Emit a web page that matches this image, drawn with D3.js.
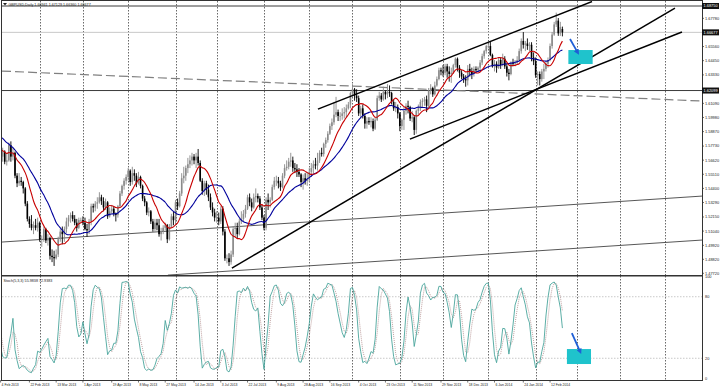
<!DOCTYPE html>
<html><head><meta charset="utf-8">
<script src="https://cdn.jsdelivr.net/npm/d3@7"></script>
<style>html,body{margin:0;padding:0;background:#fff;overflow:hidden}svg{display:block}</style>
</head><body><svg id="c" width="720" height="387"></svg>
<script>
// ---------- DATA (prices in 1/10000) ----------
const startDate = "2013-02-04";
const titleText = "GBPUSD,Daily  1.66941 1.67129 1.66360 1.66677";
const stochTitle = "Stoch(5,3,3) 55.9838 72.9383";
// 20 bars before the first shown bar (7 Jan - 1 Feb 2013), used only to warm up the indicators
const warmCloses = [16010,16000,15990,16020,16030,15960,15950,15920,15900,15800,15760,15790,15760,15780,15700,15720,15720,15780,15800,15690];
const warmHighs  = [16080,16050,16060,16070,16080,16050,16000,15990,15960,15920,15830,15830,15820,15810,15790,15760,15770,15830,15840,15860];
const warmLows   = [15980,15960,15940,15970,15980,15930,15910,15890,15870,15780,15720,15740,15730,15740,15680,15690,15690,15700,15760,15670];
const opens = [
15700,15690,15730,15650,15660, 15780,15690,15720,15540,15480, 15500,15490,15440,15320,15200, 15160,15130,15150,15130,15170,
15040,15040,15120,15030,15050, 14910,14900,14890,14920,15040, 15100,15080,15120,15180,15210, 15230,15200,15170,15130,15190,
15190,15170,15120,15110,15180, 15300,15290,15320,15330,15370, 15340,15290,15330,15220,15260, 15280,15240,15230,15300,15400,
15460,15500,15530,15580,15490, 15560,15540,15480,15530,15460, 15360,15330,15250,15260,15180, 15120,15170,15150,15080,15100,
15130,15150,15040,15140,15220, 15190,15330,15300,15400,15520, 15540,15600,15630,15660,15690, 15660,15690,15640,15500,15420,
15480,15430,15370,15290,15250, 15210,15210,15180,15280,15100, 14890,14890,14860,14920,15120, 15130,15080,15180,15200,15240,
15280,15370,15330,15290,15370, 15380,15360,15290,15210,15130, 15350,15330,15350,15450,15500, 15500,15480,15450,15540,15600,
15610,15650,15660,15600,15590, 15570,15550,15490,15520,15500, 15510,15570,15600,15630,15620, 15660,15720,15710,15790,15820,
15870,15930,15960,16020,16040, 16010,16010,16030,16040,16070, 16100,16190,16220,16170,16150, 16030,16070,16010,15950,15970,
15960,15970,15910,15980,16150, 16170,16140,16200,16180,16200, 16190,16120,16070,16080,16030, 15930,15980,16050,16090,16080,
15990,16000,15900,16050,16070, 16120,16130,16140,16090,16210, 16230,16180,16250,16300,16370, 16360,16350,16400,16360,16340,
16350,16410,16460,16390,16350, 16320,16300,16290,16380,16360, 16340,16380,16370,16390,16430, 16480,16520,16560,16560,16490,
16400,16420,16390,16450,16410, 16460,16400,16350,16340,16430, 16420,16430,16450,16520,16600, 16570,16580,16560,16570,16470,
16440,16330,16340,16300,16360, 16380,16420,16450,16560,16650, 16730,16760,16660,16694.1];
const highs = [
15750,15760,15740,15720,15800, 15810,15760,15730,15560,15560, 15530,15500,15450,15340,15220, 15230,15180,15200,15210,15180,
15070,15140,15130,15080,15060, 14960,14950,14960,15060,15120, 15140,15140,15210,15230,15250, 15260,15230,15200,15210,15210,
15220,15210,15160,15200,15320, 15320,15340,15370,15410,15390, 15370,15360,15340,15290,15310, 15300,15250,15310,15420,15470,
15520,15550,15600,15590,15610, 15590,15560,15570,15540,15470, 15380,15340,15290,15270,15200, 15200,15200,15200,15130,15150,
15170,15160,15160,15240,15260, 15350,15360,15420,15560,15610, 15620,15680,15700,15720,15710, 15720,15750,15660,15520,15500,
15500,15470,15400,15330,15280, 15260,15250,15300,15300,15120, 14920,14930,14950,15140,15170, 15170,15200,15260,15270,15310,
15390,15400,15360,15400,15440, 15400,15380,15310,15230,15370, 15400,15370,15470,15530,15540, 15530,15500,15560,15630,15660,
15680,15720,15690,15640,15630, 15600,15560,15550,15560,15570, 15600,15640,15660,15680,15720, 15740,15760,15800,15840,15890,
15950,15990,16120,16160,16060, 16040,16070,16080,16100,16120, 16200,16260,16230,16220,16170, 16090,16100,16030,16000,16000,
16000,15990,16000,16170,16200, 16190,16240,16210,16260,16250, 16200,16140,16120,16100,16040, 15990,16080,16110,16130,16090,
16050,16010,16060,16100,16140, 16150,16160,16170,16230,16260, 16240,16280,16320,16390,16390, 16410,16420,16420,16400,16390,
16420,16470,16470,16410,16370, 16340,16330,16410,16420,16390, 16400,16400,16400,16450,16500, 16530,16570,16580,16600,16500,
16450,16440,16470,16470,16500, 16480,16420,16380,16440,16460, 16450,16480,16540,16620,16670, 16600,16620,16590,16590,16510,
16470,16360,16360,16380,16420, 16440,16470,16580,16670,16750, 16823,16780,16750,16712.9];
const lows = [
15660,15650,15630,15620,15650, 15650,15660,15520,15450,15460, 15460,15400,15300,15180,15130, 15110,15080,15110,15100,15020,
14980,15020,15010,14990,14880, 14860,14830,14880,14900,15020, 15000,15020,15090,15140,15170, 15180,15150,15100,15120,15170,
15150,15110,15060,15080,15150, 15250,15260,15280,15320,15310, 15260,15270,15200,15210,15240, 15220,15180,15210,15290,15380,
15430,15470,15500,15460,15470, 15500,15450,15470,15440,15340, 15300,15230,15220,15160,15100, 15100,15110,15060,15030,15080,
15110,15010,15030,15130,15150, 15160,15270,15290,15380,15480, 15500,15560,15600,15620,15630, 15600,15620,15490,15390,15380,
15390,15340,15270,15220,15180, 15170,15150,15160,15070,14870, 14850,14830,14840,14900,15060, 15050,15070,15160,15180,15210,
15270,15300,15260,15280,15330, 15330,15270,15190,15110,15110, 15270,15290,15340,15430,15460, 15440,15420,15440,15520,15580,
15590,15610,15570,15560,15530, 15530,15450,15430,15470,15460, 15490,15530,15560,15590,15580, 15640,15690,15690,15760,15800,
15860,15900,15940,16000,15970, 15970,15980,15990,16000,16060, 16070,16160,16130,16120,16010, 15990,15990,15910,15910,15940,
15920,15890,15900,15970,16130, 16120,16130,16140,16150,16160, 16100,16050,16040,15990,15890, 15900,15900,16020,16030,15970,
15960,15860,15870,16020,16050, 16080,16090,16040,16080,16180, 16160,16170,16240,16290,16330, 16320,16330,16310,16280,16270,
16340,16390,16360,16310,16300, 16270,16240,16250,16320,16300, 16320,16350,16360,16370,16410, 16460,16500,16540,16480,16390,
16360,16350,16380,16380,16400, 16380,16320,16290,16330,16400, 16400,16410,16440,16500,16540, 16520,16530,16520,16440,16410,
16310,16250,16250,16280,16300, 16360,16390,16440,16540,16640, 16710,16640,16640,16636.0];
const closes = [
15690,15730,15650,15660,15780, 15690,15720,15540,15480,15500, 15490,15440,15320,15200,15160, 15130,15150,15130,15170,15040,
15040,15120,15030,15050,14910, 14900,14890,14920,15040,15100, 15080,15120,15180,15210,15230, 15200,15170,15130,15190,15190,
15170,15120,15110,15180,15300, 15290,15320,15330,15370,15340, 15290,15330,15220,15260,15280, 15240,15230,15300,15400,15460,
15500,15530,15580,15490,15560, 15540,15480,15530,15460,15360, 15330,15250,15260,15180,15120, 15170,15150,15080,15100,15130,
15150,15040,15140,15220,15190, 15330,15300,15400,15520,15540, 15600,15630,15660,15690,15660, 15690,15640,15500,15420,15480,
15430,15370,15290,15250,15210, 15210,15180,15280,15100,14890, 14890,14860,14920,15120,15130, 15080,15180,15200,15240,15280,
15370,15330,15290,15370,15380, 15360,15290,15210,15130,15350, 15330,15350,15450,15500,15500, 15480,15450,15540,15600,15610,
15650,15660,15600,15590,15570, 15550,15490,15520,15500,15510, 15570,15600,15630,15620,15660, 15720,15710,15790,15820,15870,
15930,15960,16020,16040,16010, 16010,16030,16040,16070,16100, 16190,16220,16170,16150,16030, 16070,16010,15950,15970,15960,
15970,15910,15980,16150,16170, 16140,16200,16180,16200,16190, 16120,16070,16080,16030,15930, 15980,16050,16090,16080,15990,
16000,15900,16050,16070,16120, 16130,16140,16090,16210,16230, 16180,16250,16300,16370,16360, 16350,16400,16360,16340,16350,
16410,16460,16390,16350,16320, 16300,16290,16380,16360,16340, 16380,16370,16390,16430,16480, 16520,16560,16560,16490,16400,
16420,16390,16450,16410,16460, 16400,16350,16340,16430,16420, 16430,16450,16520,16600,16570, 16580,16560,16570,16470,16440,
16330,16340,16300,16360,16380, 16420,16450,16560,16650,16730, 16760,16660,16710,16667.7];
const maFastPeriod = 10, maSlowPeriod = 21;
const priceTickLabels = ["1.67780","1.65560","1.64450","1.63330","1.61090","1.59980","1.58870","1.57730","1.56620","1.55510","1.54400","1.53290","1.52150","1.51040","1.49920","1.48820","1.47720"];
const markedPrices = [1.68750, 1.66677, 1.62099];
const stochLevels = [80, 20];
const stochTickLabels = ["100","80","20","0"];
const dateTickLabels = ["4 Feb 2013","22 Feb 2013","13 Mar 2013","1 Apr 2013","19 Apr 2013","8 May 2013","27 May 2013","14 Jun 2013","3 Jul 2013","22 Jul 2013","9 Aug 2013","28 Aug 2013","16 Sep 2013","4 Oct 2013","23 Oct 2013","11 Nov 2013","29 Nov 2013","18 Dec 2013","6 Jan 2014","24 Jan 2014","12 Feb 2014"];
// drawn objects, anchored as [bar index, price]
const trendThick = [[[112.4,1.4813],[327.7,1.6859]], [[198.9,1.5828],[331.1,1.6670]], [[154.2,1.6064],[287.4,1.6910]]];
const trendThin = [[[0.7,1.5018],[341.3,1.5380]], [[81.3,1.4758],[341.3,1.5034]]];
const trendDashed = [[0.7,1.6363],[341.3,1.6127]];
const boxPrice = [[275.9,1.65286],[287.7,1.64185]];
const arrowPrice = [[276.7,1.6615],[280.4,1.6510]];
const boxStoch = [[275.2,29.0],[286.9,14.4]];
const arrowStoch = [[277.6,44.6],[281.6,26.5]];

// ---------- LAYOUT ----------
const L = 2, R = 702, PT = 1, PB = 275.5, ST = 276, SB = 380;
const svg = d3.select("#c");
const FONT = "'Liberation Sans', Arial, sans-serif";

const P = v => v / 10000;
const n = closes.length;
const x = d3.scaleLinear().domain([0, n - 1]).range([0.6, 562.4]);
const yP = d3.scaleLinear().domain([1.4772, 1.6875]).range([273.3, 6.0]);
const yS = d3.scaleLinear().domain([0, 100]).range([378.8, 276.2]);

// trading days (weekdays) from start, extended to the right edge
const dates = [];
{ let d = new Date(startDate + "T00:00:00Z"); const total = Math.ceil(x.invert(R)) + 2;
  while (dates.length < total) { const wd = d.getUTCDay(); if (wd !== 0 && wd !== 6) dates.push(new Date(d)); d = new Date(d.getTime() + 86400000); } }

const defs = svg.append("defs");
defs.append("clipPath").attr("id", "cp").append("rect").attr("x", L).attr("y", PT).attr("width", R - L).attr("height", PB - PT);
defs.append("clipPath").attr("id", "cs").append("rect").attr("x", L).attr("y", ST).attr("width", R - L).attr("height", SB - ST);
defs.append("marker").attr("id", "ah").attr("viewBox", "0 0 10 10").attr("refX", 5).attr("refY", 5)
  .attr("markerWidth", 3).attr("markerHeight", 3).attr("orient", "auto")
  .append("path").attr("d", "M0,0 L10,5 L0,10 z").attr("fill", "#1f5fd6");

svg.append("rect").attr("width", 720).attr("height", 387).attr("fill", "#fff");

// vertical month grid
const gridIdx = [];
for (let i = 1; i < dates.length; i++) if (dates[i].getUTCMonth() !== dates[i - 1].getUTCMonth()) gridIdx.push(i);
const gg = svg.append("g");
[[PT, PB], [ST, SB]].forEach(([a, b]) => {
  gg.selectAll(null).data(gridIdx.filter(i => x(i) < R - 1)).enter().append("line")
    .attr("x1", i => Math.round(x(i)) + 0.5).attr("x2", i => Math.round(x(i)) + 0.5)
    .attr("y1", a).attr("y2", b).attr("stroke", "#444").attr("stroke-width", 0.8).attr("stroke-dasharray", "1.5,1.5");
});

// stochastic level lines
svg.append("g").selectAll("line").data(stochLevels).enter().append("line")
  .attr("x1", L).attr("x2", R).attr("y1", d => yS(d)).attr("y2", d => yS(d))
  .attr("stroke", "#bbb").attr("stroke-width", 0.8).attr("stroke-dasharray", "1.5,1.5");

// price panel objects
const gp = svg.append("g").attr("clip-path", "url(#cp)");
const lineP = d3.line().x(d => x(d[0])).y(d => yP(d[1]));
gp.selectAll(".hl").data(markedPrices).enter().append("line")
  .attr("x1", L).attr("x2", R).attr("y1", d => yP(d)).attr("y2", d => yP(d))
  .attr("stroke", (d, i) => i === 1 ? "#c8c8c8" : "#3a3a3a").attr("stroke-width", 1);
gp.append("path").attr("d", lineP(trendDashed)).attr("stroke", "#808080").attr("stroke-width", 1.2)
  .attr("stroke-dasharray", "9,4").attr("fill", "none");
gp.selectAll(".tt").data(trendThin).enter().append("path").attr("d", d => lineP(d))
  .attr("stroke", "#444").attr("stroke-width", 0.9).attr("fill", "none");

// candles
const all = { c: warmCloses.concat(closes), h: warmHighs.concat(highs), l: warmLows.concat(lows) };
const off = warmCloses.length;
const cg = gp.append("g");
for (let i = 0; i < n; i++) {
  const o = P(opens[i]), c = P(closes[i]), hi = P(highs[i]), lo = P(lows[i]);
  const col = c >= o ? "#8a8a8a" : "#000";
  const xi = x(i);
  cg.append("line").attr("x1", xi).attr("x2", xi).attr("y1", yP(hi)).attr("y2", yP(lo)).attr("stroke", col).attr("stroke-width", 0.9);
  const top = yP(Math.max(o, c)), bot = yP(Math.min(o, c));
  cg.append("rect").attr("x", xi - 0.8).attr("y", top).attr("width", 1.6).attr("height", Math.max(0.6, bot - top)).attr("fill", col);
}

// moving averages
function sma(arr, p) { const out = []; for (let i = 0; i < n; i++) { const j = i + off; let s = 0; for (let k = j - p + 1; k <= j; k++) s += arr[k]; out.push(P(s / p)); } return out; }
const maFast = sma(all.c, maFastPeriod), maSlow = sma(all.c, maSlowPeriod);
const lineMA = d3.line().x((d, i) => x(i)).y(d => yP(d)).curve(d3.curveMonotoneX);
gp.append("path").attr("d", lineMA(maSlow)).attr("stroke", "#00009c").attr("stroke-width", 1.1).attr("fill", "none");
gp.append("path").attr("d", lineMA(maFast)).attr("stroke", "#c80000").attr("stroke-width", 1.1).attr("fill", "none");

// thick trend lines, box, arrow
gp.selectAll(".tk").data(trendThick).enter().append("path").attr("d", d => lineP(d))
  .attr("stroke", "#000").attr("stroke-width", 1.5).attr("fill", "none");
gp.append("rect").attr("x", x(boxPrice[0][0])).attr("y", yP(boxPrice[0][1]))
  .attr("width", x(boxPrice[1][0]) - x(boxPrice[0][0])).attr("height", yP(boxPrice[1][1]) - yP(boxPrice[0][1])).attr("fill", "#1fc3cc");
gp.append("path").attr("d", lineP(arrowPrice)).attr("stroke", "#1f5fd6").attr("stroke-width", 1.8).attr("marker-end", "url(#ah)");

// stochastic (5,3,3)
const rawNum = [], rawDen = [];
for (let j = 0; j < all.c.length; j++) {
  if (j < 4) { rawNum.push(null); rawDen.push(null); continue; }
  const hh = d3.max(all.h.slice(j - 4, j + 1)), ll = d3.min(all.l.slice(j - 4, j + 1));
  rawNum.push(all.c[j] - ll); rawDen.push(hh - ll);
}
const Kall = all.c.map((_, j) => j < 6 ? null : 100 * (rawNum[j] + rawNum[j - 1] + rawNum[j - 2]) / (rawDen[j] + rawDen[j - 1] + rawDen[j - 2]));
const Dall = Kall.map((_, j) => j < 8 ? null : (Kall[j] + Kall[j - 1] + Kall[j - 2]) / 3);
const K = [], D = [];
for (let i = 0; i < n; i++) { K.push(Kall[i + off]); D.push(Dall[i + off]); }
const gs = svg.append("g").attr("clip-path", "url(#cs)");
const lineS = d3.line().x((d, i) => x(i)).y(d => yS(d));
gs.append("path").attr("d", lineS(D)).attr("stroke", "#b08a8a").attr("stroke-width", 0.8).attr("stroke-dasharray", "1,1").attr("fill", "none");
gs.append("path").attr("d", lineS(K)).attr("stroke", "#4aa59c").attr("stroke-width", 0.9).attr("fill", "none");
const lineS2 = d3.line().x(d => x(d[0])).y(d => yS(d[1]));
gs.append("rect").attr("x", x(boxStoch[0][0])).attr("y", yS(boxStoch[0][1]))
  .attr("width", x(boxStoch[1][0]) - x(boxStoch[0][0])).attr("height", yS(boxStoch[1][1]) - yS(boxStoch[0][1])).attr("fill", "#1fc3cc");
gs.append("path").attr("d", lineS2(arrowStoch)).attr("stroke", "#1f5fd6").attr("stroke-width", 1.8).attr("marker-end", "url(#ah)");

// frames
svg.append("rect").attr("x", L - 0.5).attr("y", PT - 0.5).attr("width", R - L + 1).attr("height", SB - PT + 1)
  .attr("fill", "none").attr("stroke", "#333").attr("stroke-width", 1);
svg.append("line").attr("x1", L).attr("x2", R).attr("y1", PB + 0.2).attr("y2", PB + 0.2).attr("stroke", "#333").attr("stroke-width", 1.4);

// text (small terminal-style font)
function txt(g, xx, yy, s, fs, fill) {
  return g.append("text").attr("x", xx).attr("y", yy).attr("fill", fill || "#222").attr("font-size", fs).text(s);
}
const ax = svg.append("g").attr("font-family", FONT);
priceTickLabels.forEach(t => {
  const yy = yP(+t);
  ax.append("line").attr("x1", R).attr("x2", R + 2).attr("y1", yy).attr("y2", yy).attr("stroke", "#333").attr("stroke-width", 0.7);
  txt(ax, R + 3, yy + 1.4, t, 3.9);
});
markedPrices.forEach(p => {
  const yy = yP(p);
  ax.append("rect").attr("x", R).attr("y", yy - 3).attr("width", 17).attr("height", 6).attr("fill", "#111");
  txt(ax, R + 1.5, yy + 1.4, p.toFixed(5), 3.9, "#fff");
});
stochTickLabels.forEach(t => txt(ax, R + 3, yS(+t) + 1.4 + (t === "100" ? 0.8 : 0), t, 3.9));

// date axis
const parseD = d3.timeParse("%d %b %Y");
const idxOf = new Map(dates.map((d, i) => [d.toISOString().slice(0, 10), i]));
dateTickLabels.forEach(lbl => {
  const key = d3.timeFormat("%Y-%m-%d")(parseD(lbl));
  const i = idxOf.get(key); if (i === undefined) return;
  const xx = x(i);
  ax.append("line").attr("x1", xx).attr("x2", xx).attr("y1", SB).attr("y2", SB + 2.5).attr("stroke", "#333").attr("stroke-width", 0.7);
  txt(ax, xx + 1, 385.5, lbl, 3.4);
});

// titles
ax.append("path").attr("d", "M3,3 L7,3 L5,5.6 Z").attr("fill", "#222");
txt(ax, 8.5, 6, titleText, 3.7);
txt(ax, 3.5, 281.5, stochTitle, 3.7);
</script>
</body></html>
